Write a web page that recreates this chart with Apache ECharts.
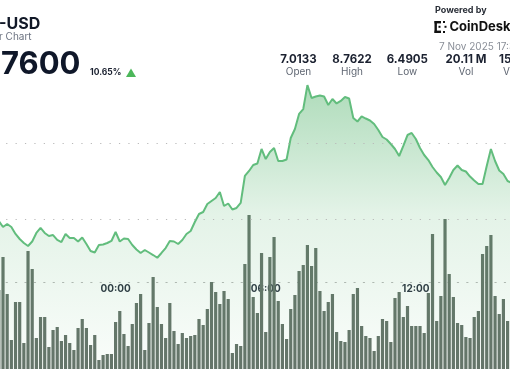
<!DOCTYPE html>
<html>
<head>
<meta charset="utf-8">
<script src="https://cdn.jsdelivr.net/npm/echarts@6/dist/echarts.min.js"></script>
<style>
  html, body { margin: 0; padding: 0; background: #ffffff; }
  #chart { width: 510px; height: 369px; }
</style>
</head>
<body>
<div id="chart"></div>
<script>
// 10-minute buckets, previous evening through the afternoon
const times = ('19:20 19:30 19:40 19:50 20:00 20:10 20:20 20:30 20:40 20:50 21:00 21:10 21:20 21:30 21:40 21:50 ' +
  '22:00 22:10 22:20 22:30 22:40 22:50 23:00 23:10 23:20 23:30 23:40 23:50 ' +
  '00:00 00:10 00:20 00:30 00:40 00:50 01:00 01:10 01:20 01:30 01:40 01:50 02:00 02:10 02:20 02:30 02:40 02:50 ' +
  '03:00 03:10 03:20 03:30 03:40 03:50 04:00 04:10 04:20 04:30 04:40 04:50 05:00 05:10 05:20 05:30 05:40 05:50 ' +
  '06:00 06:10 06:20 06:30 06:40 06:50 07:00 07:10 07:20 07:30 07:40 07:50 08:00 08:10 08:20 08:30 08:40 08:50 ' +
  '09:00 09:10 09:20 09:30 09:40 09:50 10:00 10:10 10:20 10:30 10:40 10:50 11:00 11:10 11:20 11:30 11:40 11:50 ' +
  '12:00 12:10 12:20 12:30 12:40 12:50 13:00 13:10 13:20 13:30 13:40 13:50 14:00 14:10 14:20 14:30 14:40 14:50 ' +
  '15:00 15:10 15:20 15:30 15:40 15:50').split(' ');

const prices = [
  6.974, 6.895, 6.934, 6.895, 6.803, 6.737, 6.684, 6.645, 6.704, 6.816,
  6.882, 6.816, 6.776, 6.789, 6.724, 6.697, 6.803, 6.750, 6.750, 6.704,
  6.757, 6.671, 6.579, 6.559, 6.658, 6.664, 6.684, 6.711, 6.829, 6.704,
  6.743, 6.737, 6.658, 6.599, 6.553, 6.592, 6.559, 6.526, 6.4905, 6.553,
  6.618, 6.711, 6.704, 6.671, 6.724, 6.803, 6.842, 6.961, 7.066, 7.092,
  7.197, 7.237, 7.276, 7.355, 7.171, 7.204, 7.125, 7.145, 7.211, 7.566,
  7.632, 7.711, 7.730, 7.921, 7.789, 7.882, 7.934, 7.763, 7.763, 7.783,
  8.066, 8.184, 8.382, 8.447, 8.7622, 8.592, 8.612, 8.625, 8.612, 8.500,
  8.579, 8.520, 8.553, 8.605, 8.586, 8.329, 8.283, 8.349, 8.322, 8.296,
  8.250, 8.171, 8.079, 8.046, 7.987, 7.921, 7.829, 7.961, 8.105, 8.132,
  8.053, 7.934, 7.842, 7.776, 7.684, 7.612, 7.553, 7.447, 7.540, 7.645,
  7.704, 7.645, 7.625, 7.559, 7.507, 7.461, 7.461, 7.697, 7.921, 7.763,
  7.638, 7.592, 7.500, 7.474
];

const volumes = [
  81, 114, 77, 31, 69, 69, 28, 120, 102, 33,
  54, 54, 24, 41, 44, 30, 36, 28, 21, 43,
  52, 43, 26, 36, 11, 16, 17, 17, 49, 60,
  37, 25, 47, 68, 77, 21, 48, 94, 64, 47,
  33, 68, 40, 27, 38, 33, 35, 36, 52, 46,
  62, 89, 79, 67, 80, 72, 18, 27, 25, 107,
  156, 74, 58, 118, 39, 114, 134, 70, 47, 32,
  62, 76, 100, 106, 126, 105, 123, 80, 60, 69,
  77, 39, 30, 29, 41, 77, 83, 45, 35, 33,
  20, 35, 52, 50, 29, 73, 79, 54, 65, 45,
  45, 45, 38, 78, 137, 50, 75, 152, 97, 74,
  48, 46, 34, 33, 54, 60, 117, 125, 136, 75,
  57, 72, 50, 55
];

const tickLabels = ['00:00', '06:00', '12:00'];
const priceGridLevels = [7, 8];
const statValues = ['7.0133', '8.7622', '6.4905', '20.11 M'];
const statLabels = ['Open', 'High', 'Low', 'Vol'];

const FONT = 'Inter, "Noto Sans", sans-serif';
const chart = echarts.init(document.getElementById('chart'), null, { renderer: 'canvas' });

const statCenters = [298.5, 352, 407.3, 466];
const statGraphics = [];
statValues.forEach((v, i) => {
  statGraphics.push({ type: 'text', x: statCenters[i], y: 59.5, style: { text: v, font: '700 11.5px ' + FONT, fill: '#1b2130', align: 'center', verticalAlign: 'middle' } });
  statGraphics.push({ type: 'text', x: statCenters[i], y: 72, style: { text: statLabels[i], font: '400 10px ' + FONT, fill: '#5f6672', align: 'center', verticalAlign: 'middle' } });
});
statGraphics.push({ type: 'text', x: 499, y: 59.5, style: { text: '15', font: '700 11.5px ' + FONT, fill: '#1b2130', align: 'left', verticalAlign: 'middle' } });
statGraphics.push({ type: 'text', x: 503, y: 72, style: { text: 'V', font: '400 10px ' + FONT, fill: '#5f6672', align: 'left', verticalAlign: 'middle' } });

const option = {
  animation: false,
  backgroundColor: '#ffffff',
  grid: { left: -3.245, width: 517.08, top: 67, height: 304, containLabel: false, outerBoundsMode: 'none' },
  xAxis: {
    type: 'category',
    data: times,
    boundaryGap: true,
    offset: -89,
    axisLine: { show: true, lineStyle: { color: '#b9b9b9', width: 1.2, type: [1.2, 8.2] } },
    axisTick: { show: false },
    axisLabel: {
      interval: (idx, val) => tickLabels.includes(val),
      margin: 2,
      fontFamily: FONT,
      fontWeight: 700,
      fontSize: 10,
      color: '#2d3442'
    },
    splitLine: { show: false }
  },
  yAxis: [
    { type: 'value', min: 5, max: 9, show: false, splitLine: { show: false } },
    { type: 'value', min: 0, max: 304, show: false, splitLine: { show: false } }
  ],
  series: [
    {
      type: 'bar',
      yAxisIndex: 1,
      data: volumes,
      barWidth: 3.2,
      itemStyle: { color: '#66736a' },
      silent: true
    },
    {
      type: 'line',
      yAxisIndex: 0,
      data: prices,
      symbol: 'none',
      clip: false,
      lineStyle: { color: '#62bd7d', width: 2 },
      areaStyle: {
        origin: 'start',
        color: new echarts.graphic.LinearGradient(0, 0, 0, 1, [
          { offset: 0, color: 'rgba(76,176,102,0.64)' },
          { offset: 0.45, color: 'rgba(76,176,102,0.22)' },
          { offset: 1, color: 'rgba(76,176,102,0.04)' }
        ])
      },
      markLine: {
        silent: true,
        symbol: 'none',
        label: { show: false },
        lineStyle: { color: '#b9b9b9', width: 1.2, type: [1.2, 8.2] },
        data: priceGridLevels.map(v => ({ yAxis: v }))
      }
    }
  ],
  graphic: [
    { type: 'text', x: -1, y: 24, style: { text: '-USD', font: '700 16px ' + FONT, fill: '#111827', verticalAlign: 'middle' } },
    { type: 'text', x: -1, y: 37, style: { text: 'r Chart', font: '400 10px ' + FONT, fill: '#6b7280', verticalAlign: 'middle' } },
    { type: 'text', x: 1, y: 64.5, style: { text: '7600', font: '700 31px ' + FONT, fill: '#0f1729', verticalAlign: 'middle' } },
    { type: 'text', x: 90, y: 72.3, style: { text: '10.65%', font: '700 8.5px ' + FONT, fill: '#1b2130', verticalAlign: 'middle' } },
    { type: 'polygon', shape: { points: [[126, 77], [131, 68.5], [136, 77]] }, style: { fill: '#4cb75a' } },
    { type: 'text', x: 435, y: 10.5, style: { text: 'Powered by', font: '700 9px ' + FONT, fill: '#2a2f38', verticalAlign: 'middle' } },
    { type: 'rect', shape: { x: 434.5, y: 21, width: 2.4, height: 12 }, style: { fill: '#111' } },
    { type: 'rect', shape: { x: 434.5, y: 21, width: 6.5, height: 2.4 }, style: { fill: '#111' } },
    { type: 'rect', shape: { x: 434.5, y: 30.6, width: 6.5, height: 2.4 }, style: { fill: '#111' } },
    { type: 'rect', shape: { x: 438.5, y: 25.8, width: 2, height: 2 }, style: { fill: '#111' } },
    { type: 'rect', shape: { x: 443, y: 21, width: 2, height: 2 }, style: { fill: '#111' } },
    { type: 'rect', shape: { x: 443, y: 31, width: 2, height: 2 }, style: { fill: '#111' } },
    { type: 'rect', shape: { x: 444.5, y: 25.8, width: 2, height: 2 }, style: { fill: '#111' } },
    { type: 'text', x: 449.5, y: 27.2, style: { text: 'CoinDesk', font: '700 13px ' + FONT, fill: '#111111', verticalAlign: 'middle' } },
    { type: 'text', x: 439, y: 46.5, style: { text: '7 Nov 2025 17:30', font: '400 10px ' + FONT, fill: '#8a8f98', verticalAlign: 'middle' } }
  ].concat(statGraphics)
};
chart.setOption(option);
</script>
</body>
</html>
